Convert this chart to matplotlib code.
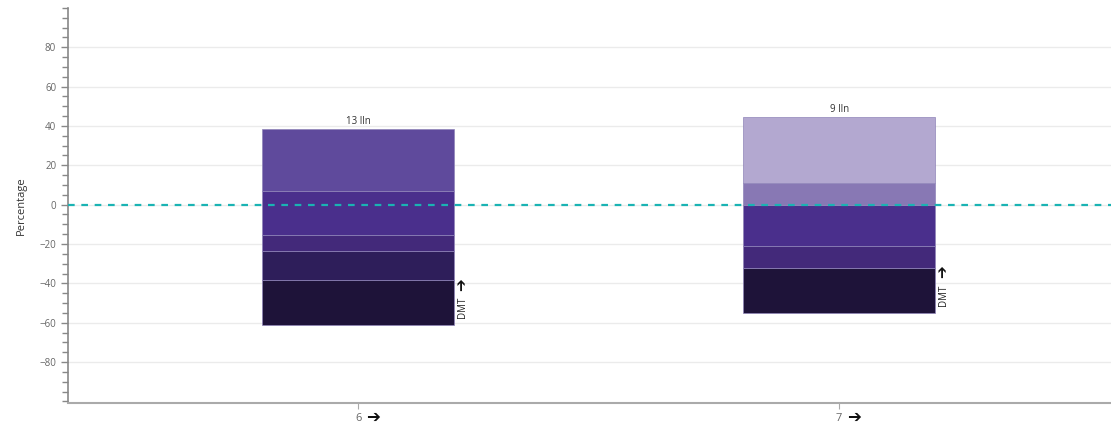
import matplotlib
matplotlib.use('Agg')
import matplotlib.pyplot as plt
import matplotlib.transforms as mtransforms
from matplotlib.ticker import MultipleLocator

plt.rcParams['font.family'] = ['Open Sans', 'DejaVu Sans']

# categories and totals
categories = ['6', '7']
totals = ['13 lln', '9 lln']

# stacked segments per bar, bottom to top: (start, end) in percent
segments_6 = [(-61.3, -38.4), (-38.4, -23.7), (-23.7, -15.5), (-15.5, 7.0), (7.0, 38.3)]
segments_7 = [(-55.0, -32.1), (-32.1, -21.1), (-21.1, 0.0), (0.0, 10.9), (10.9, 44.5)]

colors_6 = ['#1e1339', '#2e1e5a', '#43297a', '#4a2f8c', '#5f4a9c']
colors_7 = ['#1e1339', '#43297a', '#4a2f8c', '#8878b4', '#b3a8d0']

all_segments = [segments_6, segments_7]
all_colors = [colors_6, colors_7]

fig = plt.figure(figsize=(11.11, 4.24), dpi=100)
ax = fig.add_axes([68 / 1111, 1 - 403 / 424, 1 - 68 / 1111, (403 - 7.5) / 424])

width = 0.40
for i, (segs, cols) in enumerate(zip(all_segments, all_colors)):
    for (lo, hi), c in zip(segs, cols):
        ax.bar(i, hi - lo, bottom=lo, width=width, color=c,
               edgecolor='#8f84b8', linewidth=0.5, zorder=2)
    top = segs[-1][1]
    bottom = segs[0][0]
    ax.text(i, top + 1.2, totals[i], ha='center', va='bottom',
            fontsize=7, color='#333333')
    # rotated label with an arrow above it
    ax.text(i + width / 2 + 0.005, bottom + 3.5, 'DMT', rotation=90,
            ha='left', va='bottom', fontsize=7, color='#222222', zorder=3)
    ax.text(i + width / 2 + 0.002, bottom + 17.5, u'\u2794', rotation=90,
            ha='left', va='bottom', fontsize=11, fontweight='bold',
            color='#111111', zorder=3)

ax.axhline(0, color='#1ab3b3', linestyle=(0, (3, 3)), linewidth=1.6, zorder=3)

ax.set_xlim(-0.603, 1.565)
ax.set_ylim(-100.8, 100.2)
ax.set_xticks(range(len(categories)))
ax.set_xticklabels(categories, fontsize=8, color='#666666')

# bold arrows right of the category labels
trans = mtransforms.blended_transform_factory(ax.transData, ax.transAxes)
shift = mtransforms.ScaledTranslation(6 / 72, 0, fig.dpi_scale_trans)
for i in range(len(categories)):
    ax.text(i, -0.036, u'\u2794', transform=trans + shift,
            ha='left', va='center', fontsize=12, fontweight='bold',
            color='#111111')

ax.yaxis.set_major_locator(MultipleLocator(20))
ax.yaxis.set_minor_locator(MultipleLocator(5))
ax.set_yticks([-80, -60, -40, -20, 0, 20, 40, 60, 80])
ax.tick_params(axis='y', which='major', length=5, color='#888888', labelsize=7,
               labelcolor='#666666', width=1)
ax.tick_params(axis='y', which='minor', length=4, color='#888888', width=1)
ax.tick_params(axis='x', length=4, color='#aaaaaa', pad=3.5)
ax.grid(axis='y', color='#ebebeb', linewidth=1, zorder=0)
ax.set_axisbelow(True)

for side in ['top', 'right']:
    ax.spines[side].set_visible(False)
ax.spines['left'].set_color('#888888')
ax.spines['left'].set_linewidth(1.2)
ax.spines['bottom'].set_color('#aaaaaa')
ax.spines['bottom'].set_linewidth(1.5)

ax.set_ylabel('Percentage', fontsize=8, color='#333333', labelpad=9)

fig.savefig('out.png', dpi=100)
